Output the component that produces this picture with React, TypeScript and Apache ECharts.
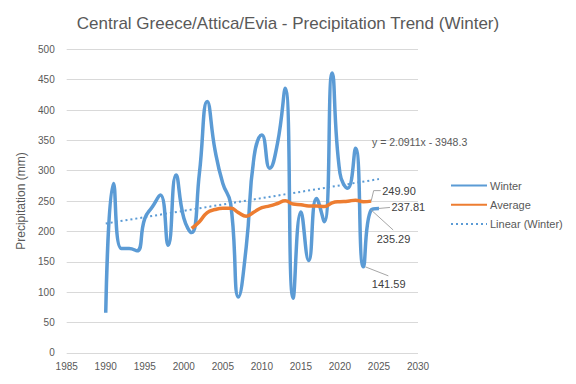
import React, { useEffect, useRef } from "react";
import * as echarts from "echarts";

const years = [1990, 1991, 1992, 1993, 1994, 1995, 1996, 1997, 1998, 1999, 2000, 2001, 2002, 2003, 2004, 2005, 2006, 2007, 2008, 2009, 2010, 2011, 2012, 2013, 2014, 2015, 2016, 2017, 2018, 2019, 2020, 2021, 2022, 2023, 2024, 2025];
const winter = [66, 279, 172, 172, 168, 221, 241, 260, 177, 293, 222, 198, 296, 414, 334, 279, 246, 92, 175, 323, 359, 304, 345, 436, 90, 232, 152, 254, 216, 461, 296, 271, 337, 141.59, 235.29, 237.81];
const avgYears = [2001, 2002, 2003, 2004, 2005, 2006, 2007, 2008, 2009, 2010, 2011, 2012, 2013, 2014, 2015, 2016, 2017, 2018, 2019, 2020, 2021, 2022, 2023, 2024];
const average = [205, 216, 231, 236, 238, 238, 231, 225, 232, 239, 242, 246, 250.6, 245, 244, 242, 242, 241, 247, 249, 249.6, 251.5, 249, 249.9];
const trendYears = [1990, 2025];
const trendValues = [213.0, 286.2];
const equation = "y = 2.0911x - 3948.3";
const xTicks = { min: 1985, max: 2030, step: 5 };
const yTicks = { min: 0, max: 500, step: 50 };

const FONT = "'Liberation Sans', 'DejaVu Sans', sans-serif";
const BLUE = "#5b9bd5";
const ORANGE = "#ed7d31";

export default function App() {
  const ref = useRef<HTMLDivElement>(null);
  useEffect(() => {
    if (!ref.current) return;
    const chart = echarts.init(ref.current, null, { renderer: "svg" });
    const option: any = {
      animation: false,
      backgroundColor: "#ffffff",
      title: {
        text: "Central Greece/Attica/Evia - Precipitation Trend (Winter)",
        left: "center",
        top: 10,
        textStyle: { fontFamily: FONT, fontSize: 17, fontWeight: "normal", color: "#595959" },
      },
      grid: { left: 66.7, right: 158, top: 49.3, bottom: 31.2 },
      xAxis: {
        type: "value",
        min: xTicks.min,
        max: xTicks.max,
        interval: xTicks.step,
        axisLine: { show: false },
        axisTick: { show: false },
        splitLine: { show: false },
        axisLabel: { color: "#595959", fontSize: 10, fontFamily: FONT, margin: 9, formatter: (v: number) => String(v) },
      },
      yAxis: {
        type: "value",
        min: yTicks.min,
        max: yTicks.max,
        interval: yTicks.step,
        axisLine: { show: false },
        axisTick: { show: false },
        splitLine: { lineStyle: { color: "#d9d9d9", width: 1 } },
        axisLabel: { color: "#595959", fontSize: 10, fontFamily: FONT, margin: 12 },
        name: "Precipitation (mm)",
        nameLocation: "middle",
        nameGap: 34,
        nameTextStyle: { color: "#595959", fontSize: 12, fontFamily: FONT },
      },
      legend: {
        orient: "vertical",
        left: 450,
        top: 180,
        itemWidth: 36,
        itemHeight: 14,
        itemGap: 8,
        padding: 0,
        itemStyle: { opacity: 0 },
        textStyle: { color: "#595959", fontSize: 11, fontFamily: FONT, padding: [0, 0, 0, -2] },
        data: ["Winter", "Average", "Linear (Winter)"],
      },
      series: [
        {
          name: "Winter",
          type: "line",
          smooth: 0.5,
          symbol: "none",
          lineStyle: { color: BLUE, width: 3.5 },
          itemStyle: { color: BLUE },
          data: years.map((y, i) => [y, winter[i]]),
          z: 3,
        },
        {
          name: "Average",
          type: "line",
          smooth: 0.5,
          symbol: "none",
          lineStyle: { color: ORANGE, width: 3.5 },
          itemStyle: { color: ORANGE },
          data: avgYears.map((y, i) => [y, average[i]]),
          z: 4,
        },
        {
          name: "Linear (Winter)",
          type: "line",
          symbol: "none",
          lineStyle: { color: BLUE, width: 2, type: [2, 3] },
          itemStyle: { color: BLUE },
          data: trendYears.map((y, i) => [y, trendValues[i]]),
          z: 2,
        },
      ],
    };
    chart.setOption(option);

    const px = (x: number, y: number) => chart.convertToPixel({ gridIndex: 0 }, [x, y]) as number[];
    const nW = years.length;
    const nA = avgYears.length;
    const labels = [
      { p: px(avgYears[nA - 1], average[nA - 1]), text: average[nA - 1].toFixed(2), pts: [[0, 0], [2.5, -10.5], [9.5, -10.5]], tx: 11, ty: -10 },
      { p: px(years[nW - 1], winter[nW - 1]), text: winter[nW - 1].toFixed(2), pts: [[0, 0], [11, -1]], tx: 12.5, ty: -1.5 },
      { p: px(years[nW - 2], winter[nW - 2]), text: winter[nW - 2].toFixed(2), pts: [[0, 0], [22, 20]], tx: 5.5, ty: 29 },
      { p: px(years[nW - 3], winter[nW - 3]), text: winter[nW - 3].toFixed(2), pts: [[2, 0], [25, 9]], tx: 8.5, ty: 17.5 },
    ];
    const graphics: any[] = [];
    labels.forEach((l) => {
      graphics.push({
        type: "polyline",
        shape: { points: l.pts.map((q) => [l.p[0] + q[0], l.p[1] + q[1]]) },
        style: { stroke: "#a6a6a6", lineWidth: 1, fill: "none" },
        silent: true,
        z: 10,
      });
      graphics.push({
        type: "text",
        x: l.p[0] + l.tx,
        y: l.p[1] + l.ty,
        style: { text: l.text, fill: "#404040", fontSize: 11, fontFamily: FONT, verticalAlign: "middle" },
        silent: true,
        z: 11,
      });
    });
    const tEnd = px(trendYears[1], trendValues[1]);
    graphics.push({
      type: "text",
      x: tEnd[0] - 7,
      y: tEnd[1] - 37,
      style: { text: equation, fill: "#595959", fontSize: 10.5, fontFamily: FONT, verticalAlign: "middle" },
      silent: true,
      z: 11,
    });
    chart.setOption({ graphic: graphics });
    return () => chart.dispose();
  }, []);
  return <div ref={ref} style={{ position: "absolute", left: 0, top: 0, width: 576, height: 384 }} />;
}
